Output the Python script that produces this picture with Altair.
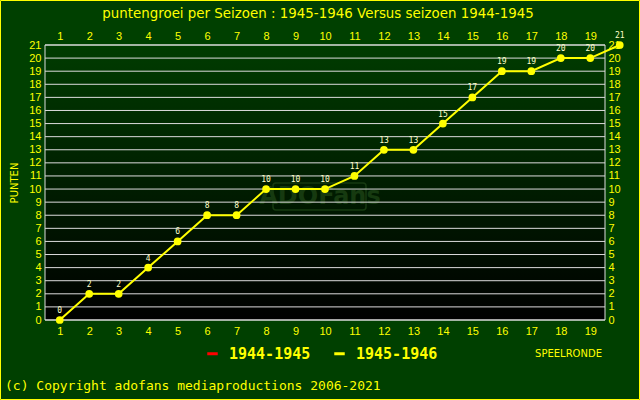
import altair as alt
import pandas as pd

# ---------------- data ----------------
rounds = list(range(1, 21))
punten_1945_1946 = [0, 2, 2, 4, 6, 8, 8, 10, 10, 10, 11, 13, 13, 15, 17, 19, 19, 20, 20, 21]
punten_1944_1945 = []  # no values drawn for this season
series = ["1944-1945", "1945-1946"]
series_colors = ["#ff0000", "#ffff00"]
x_ticks = list(range(1, 20))
y_ticks = list(range(0, 22))

title_text = "puntengroei per Seizoen : 1945-1946 Versus seizoen 1944-1945"
copyright_text = "(c) Copyright adofans mediaproductions 2006-2021"

rows = [{"ronde": r, "punten": p, "seizoen": "1945-1946"} for r, p in zip(rounds, punten_1945_1946)]
rows += [{"ronde": r, "punten": p, "seizoen": "1944-1945"} for r, p in zip(rounds, punten_1944_1945)]
df = pd.DataFrame(rows)
grid_df = pd.DataFrame({"v": y_ticks})

YEL = "#ffff00"
GRID = "#dcdcdc"
W, H = 560, 275

xs = alt.Scale(domain=[0.5, 19.5], nice=False, zero=False)
ys = alt.Scale(domain=[0, 21], nice=False, zero=True)
cs = alt.Scale(domain=series, range=series_colors)

common = dict(labelColor=YEL, labelFont="Liberation Sans", labelFontSize=11,
              ticks=False, domain=False, grid=False)

ax_bottom = alt.Axis(orient="bottom", values=x_ticks, labelPadding=5,
                     title="SPEELRONDE", titleColor=YEL, titleFont="DejaVu Sans",
                     titleFontSize=10, titleFontWeight="normal", titleX=523, titleY=33,
                     titleAlign="center", titleBaseline="middle", **common)
ax_top = alt.Axis(orient="top", values=x_ticks, labelPadding=4, title=None, **common)
ax_left = alt.Axis(orient="left", values=y_ticks, labelPadding=4, title="PUNTEN", titleColor=YEL,
                   titleFont="DejaVu Sans", titleFontSize=10, titleFontWeight="normal",
                   titleX=-31, titleY=H / 2, titleAngle=270, titleAlign="center",
                   titleBaseline="middle", **common)
ax_right = alt.Axis(orient="right", values=y_ticks, labelPadding=3, title=None, **common)

gradient = alt.Gradient(
    gradient="linear", x1=0, y1=0, x2=0, y2=1,
    stops=[alt.GradientStop(offset=0, color="#003c00"),
           alt.GradientStop(offset=1, color="#000000")])

panel = alt.Chart().mark_rect(fill=gradient, stroke=GRID, strokeWidth=1).encode(
    x=alt.value(0), x2=alt.value(W), y=alt.value(0), y2=alt.value(H))

wm_box = alt.Chart().mark_rect(fill=None, stroke="#163a10", strokeWidth=1.5, cornerRadius=3).encode(
    x=alt.value(228), x2=alt.value(321), y=alt.value(138), y2=alt.value(165))
watermark = alt.Chart().mark_text(text="ADOFans", font="DejaVu Sans", fontWeight="bold",
                                  fontSize=24, color="#163a10", align="center",
                                  baseline="middle").encode(x=alt.value(275), y=alt.value(152))

grid = alt.Chart(grid_df).mark_rule(color=GRID, strokeWidth=1).encode(
    y=alt.Y("v:Q", scale=ys, axis=None))

base = alt.Chart(df)

line = base.mark_line(strokeWidth=2).encode(
    x=alt.X("ronde:Q", scale=xs, axis=ax_bottom),
    y=alt.Y("punten:Q", scale=ys, axis=ax_left),
    color=alt.Color("seizoen:N", scale=cs, legend=alt.Legend(
        orient="none", legendX=160, legendY=301, direction="horizontal", title=None,
        labelColor=YEL, labelFont="DejaVu Sans Mono", labelFontWeight="bold",
        labelFontSize=15, symbolType="stroke", symbolStrokeWidth=3, symbolSize=110,
        columnPadding=17, labelOffset=9, padding=0)),
)

points = base.mark_circle(size=60, opacity=1).encode(
    x=alt.X("ronde:Q", scale=xs, axis=ax_top),
    y=alt.Y("punten:Q", scale=ys, axis=ax_right),
    color=alt.Color("seizoen:N", scale=cs, legend=None),
)

labels = base.mark_text(dy=-5, baseline="bottom", font="DejaVu Sans Mono", fontSize=8,
                        color="#ffffc8").encode(
    x=alt.X("ronde:Q", scale=xs, axis=None),
    y=alt.Y("punten:Q", scale=ys, axis=None),
    text="punten:Q",
)

copyright_mark = alt.Chart().mark_text(text=copyright_text, font="DejaVu Sans Mono", fontSize=13,
                                       color=YEL, align="left", baseline="middle").encode(
    x=alt.value(-40), y=alt.value(341))

border = alt.Chart().mark_rect(fill=None, stroke=YEL, strokeWidth=1).encode(
    x=alt.value(-44.5), x2=alt.value(594.5), y=alt.value(-44.5), y2=alt.value(354.5))

chart = alt.layer(
    panel, wm_box, watermark, grid, line, points, labels, copyright_mark, border
).resolve_axis(x="independent", y="independent").properties(
    width=W, height=H,
    autosize="none",
    padding={"left": 45, "top": 45, "right": 35, "bottom": 80},
    background="#004000",
    title=alt.Title(title_text, color=YEL, font="DejaVu Sans", fontSize=13.4,
                    fontWeight="normal", anchor="middle", baseline="alphabetic",
                    offset=-31, dx=-7),
).configure_view(stroke=None)

chart.save("out.html", embed_options={"renderer": "svg", "actions": False})
